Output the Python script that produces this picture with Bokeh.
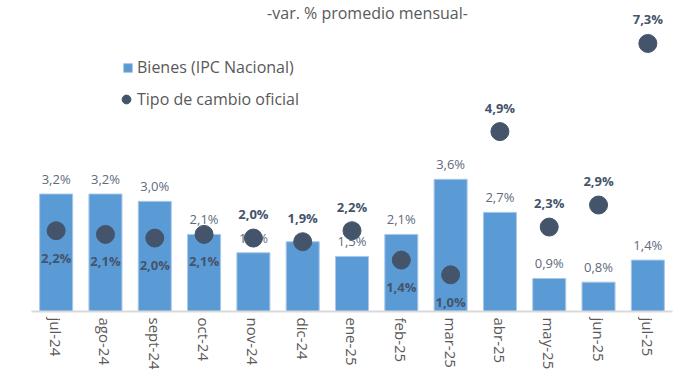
from bokeh.plotting import figure
from bokeh.models import (ColumnDataSource, FactorRange, Range1d, Legend, LegendItem, Label)
from bokeh.embed import file_html
from bokeh.resources import INLINE
from bokeh.core.properties import value

# ---- data ----
months = ["jul-24", "ago-24", "sept-24", "oct-24", "nov-24", "dic-24", "ene-25",
          "feb-25", "mar-25", "abr-25", "may-25", "jun-25", "jul-25"]
bienes_ipc = [3.2, 3.2, 3.0, 2.1, 1.6, 1.9, 1.5, 2.1, 3.6, 2.7, 0.9, 0.8, 1.4]
tipo_cambio = [2.2, 2.1, 2.0, 2.1, 2.0, 1.9, 2.2, 1.4, 1.0, 4.9, 2.3, 2.9, 7.3]
bienes_label_shown = [True, True, True, True, True, False, True, True, True, True, True, True, True]
title_text = "-var. % promedio mensual-"
legend_bienes = "Bienes (IPC Nacional)"
legend_tc = "Tipo de cambio oficial"

# ---- style ----
tc_label_below = [True, True, True, True, False, False, False, True, True, False, False, False, False]
BAR = "#5B9BD5"
DOT = "#44546A"
GREY = "#595959"
BAR_LABEL = "#5F6A7D"
FONT = "Open Sans"


def fmt(v):
    return f"{v:.1f}".replace(".", ",") + "%"


bar_src = ColumnDataSource(dict(
    x=months, top=bienes_ipc,
    lab=[fmt(v) if s else "" for v, s in zip(bienes_ipc, bienes_label_shown)],
))
dot_src = ColumnDataSource(dict(
    x=months, y=tipo_cambio,
    lab=[fmt(v) for v in tipo_cambio],
    yoff=[27 if b else -24 for b in tc_label_below],
))

W, H = 678, 381
p = figure(width=W, height=H, x_range=FactorRange(*months), y_range=Range1d(0, 8.47),
           output_backend="svg", toolbar_location=None,
           min_border_left=31, min_border_right=6, min_border_top=0, min_border_bottom=70)
p.outline_line_color = None
p.grid.visible = False
p.yaxis.visible = False
p.background_fill_color = "white"
p.border_fill_color = "white"

xa = p.xaxis[0]
xa.axis_line_color = "#D9D9D9"
xa.axis_line_width = 2
xa.major_tick_line_color = None
xa.minor_tick_line_color = None
xa.major_tick_out = 0
xa.major_tick_in = 0
xa.major_label_orientation = "vertical"
xa.major_label_text_font = FONT
xa.major_label_text_font_size = "15px"
xa.major_label_text_color = GREY
xa.major_label_standoff = 6

bars = p.vbar(x="x", top="top", width=0.67, source=bar_src, fill_color=BAR,
              line_color="#A9C8EA", line_width=1)
p.text(x="x", y="top", text="lab", source=bar_src, y_offset=-15,
       text_align="center", text_baseline="middle", text_color=BAR_LABEL,
       text_font=value(FONT), text_font_size="13px")

dots = p.scatter(x="x", y="y", size=18, source=dot_src, fill_color=DOT, line_color=DOT)
p.text(x="x", y="y", text="lab", source=dot_src, y_offset="yoff",
       text_align="center", text_baseline="middle", text_color=DOT,
       text_font=value(FONT), text_font_size="13px", text_font_style="bold")

leg1 = Legend(items=[LegendItem(label=legend_bienes, renderers=[bars])],
              location=(91, 233), glyph_width=11, glyph_height=11, label_height=11,
              label_standoff=4, padding=0, margin=0, spacing=0,
              border_line_color=None, background_fill_alpha=0,
              label_text_font=FONT, label_text_font_size="16px", label_text_color=GREY)
leg2 = Legend(items=[LegendItem(label=legend_tc, renderers=[dots])],
              location=(84, 201), glyph_width=22, glyph_height=22, label_height=22,
              label_standoff=0, padding=0, margin=0, spacing=0,
              border_line_color=None, background_fill_alpha=0,
              label_text_font=FONT, label_text_font_size="16px", label_text_color=GREY)
p.add_layout(leg1, "center")
p.add_layout(leg2, "center")

p.add_layout(Label(x=336, y=310, x_units="screen", y_units="screen", text=title_text,
                   text_align="center", text_baseline="top", text_color=GREY,
                   text_font=FONT, text_font_size="16px"))

open("out.html", "w").write(file_html(p, INLINE))
